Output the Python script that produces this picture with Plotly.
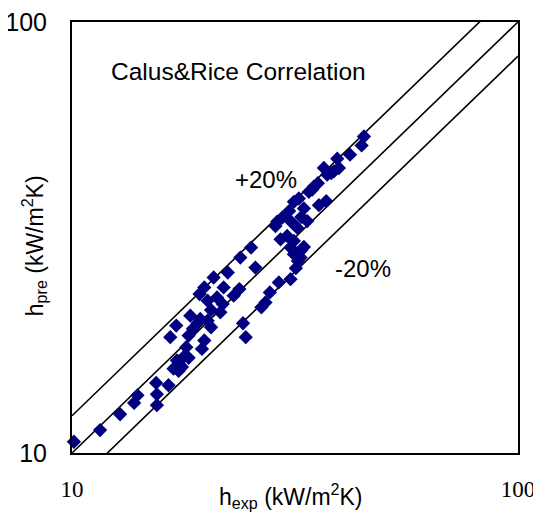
import plotly.graph_objects as go

h_exp = [10.10, 11.56, 12.82, 13.78, 14.02, 15.44, 15.50, 15.50, 16.46, 16.89,
         17.34, 17.19, 17.79, 18.26, 17.64, 16.61, 17.13, 18.04, 18.26, 18.67,
         19.12, 19.56, 19.80, 20.14, 20.50, 18.42, 19.39, 19.32, 19.80, 20.14,
         20.50, 20.78, 21.14, 21.51, 21.88, 21.77, 22.35, 23.04, 23.73, 23.85,
         25.21, 25.78, 24.18, 24.52, 26.59, 27.15, 27.77, 29.09, 30.90, 28.84,
         29.60, 29.35, 30.37, 30.90, 31.44, 32.10, 32.66, 31.76, 33.11, 30.68,
         31.44, 32.26, 33.11, 32.66, 33.68, 33.97, 34.86, 35.59, 36.71, 37.35,
         35.78, 37.15, 38.13, 39.33, 39.67, 42.01, 44.60, 45.15, 28.59, 30.90,
         31.98, 31.44, 32.54, 34.57, 38.66]
h_pre = [10.62, 11.30, 12.30, 13.07, 13.61, 14.54, 13.68, 12.91, 14.36, 15.69,
         15.50, 16.40, 16.69, 16.63, 15.83, 18.57, 19.75, 17.60, 18.73, 19.41,
         20.00, 17.44, 18.24, 20.28, 19.58, 20.83, 20.46, 23.37, 24.22, 22.56,
         21.47, 25.54, 22.96, 21.20, 24.22, 22.16, 26.23, 23.17, 24.01, 28.41,
         29.96, 26.93, 20.00, 18.57, 21.78, 22.36, 23.58, 24.87, 25.31, 34.41,
         35.15, 31.32, 31.88, 29.96, 28.92, 27.91, 29.54, 26.84, 30.07, 36.41,
         38.26, 38.95, 36.93, 35.27, 34.53, 40.36, 41.51, 42.26, 45.84, 44.24,
         37.59, 38.39, 44.63, 48.17, 45.84, 49.21, 51.71, 54.24, 33.63, 34.53,
         33.33, 31.04, 28.41, 40.85, 45.04]

line_x = [10, 100]
line_ratios = [1.22, 1.0, 0.833]
tick_vals = [10, 100]
tick_text = ["10", "100"]

fig = go.Figure()
for r in line_ratios:
    fig.add_trace(go.Scatter(x=line_x, y=[r * v for v in line_x], mode="lines",
                             line=dict(color="black", width=1.6),
                             showlegend=False, hoverinfo="skip", cliponaxis=True))
fig.add_trace(go.Scatter(x=h_exp, y=h_pre, mode="markers", cliponaxis=False,
                         marker=dict(symbol="diamond", size=11, color="#000080",
                                     line=dict(width=0)),
                         showlegend=False))

fig.update_xaxes(type="log", range=[1, 2], tickvals=tick_vals, ticktext=tick_text,
                 showgrid=False, zeroline=False, showline=True, mirror=True,
                 linecolor="black", linewidth=2, ticks="", automargin=False,
                 ticklabelstandoff=14, ticklabeloverflow="allow",
                 tickfont=dict(family="Liberation Serif, Times New Roman, serif",
                               size=23, color="black"))
fig.update_yaxes(type="log", range=[1, 2], tickvals=tick_vals, ticktext=tick_text,
                 showgrid=False, zeroline=False, showline=True, mirror=True,
                 linecolor="black", linewidth=2, ticks="", automargin=False,
                 ticklabelstandoff=18, ticklabeloverflow="allow",
                 tickfont=dict(family="Arial, Liberation Sans, sans-serif",
                               size=25, color="black"))

sans = dict(family="Arial, Liberation Sans, sans-serif", color="black")
fig.add_annotation(x=0.082, y=0.885, xref="paper", yref="paper", xanchor="left",
                   yanchor="middle", text="Calus&Rice Correlation",
                   showarrow=False, font=dict(size=24.5, **sans))
fig.add_annotation(x=0.362, y=0.635, xref="paper", yref="paper", xanchor="left",
                   yanchor="middle", text="+20%", showarrow=False,
                   font=dict(size=24, **sans))
fig.add_annotation(x=0.586, y=0.427, xref="paper", yref="paper", xanchor="left",
                   yanchor="middle", text="-20%", showarrow=False,
                   font=dict(size=24, **sans))
fig.add_annotation(x=0.49, y=-0.1, xref="paper", yref="paper", xanchor="center",
                   yanchor="middle", text="h<sub>exp</sub> (kW/m<sup>2</sup>K)",
                   showarrow=False, font=dict(size=23, **sans))
fig.add_annotation(x=-0.085, y=0.48, xref="paper", yref="paper", xanchor="center",
                   yanchor="middle", text="h<sub>pre</sub> (kW/m<sup>2</sup>K)",
                   textangle=-90, showarrow=False, font=dict(size=23, **sans))

# the page body has an 8 px margin, so the margins are offset to place the
# plot area where the reference has it
fig.update_layout(width=541, height=513, margin=dict(l=64, r=31, t=14, b=68),
                  plot_bgcolor="white", paper_bgcolor="white")
fig.write_html("out.html")
